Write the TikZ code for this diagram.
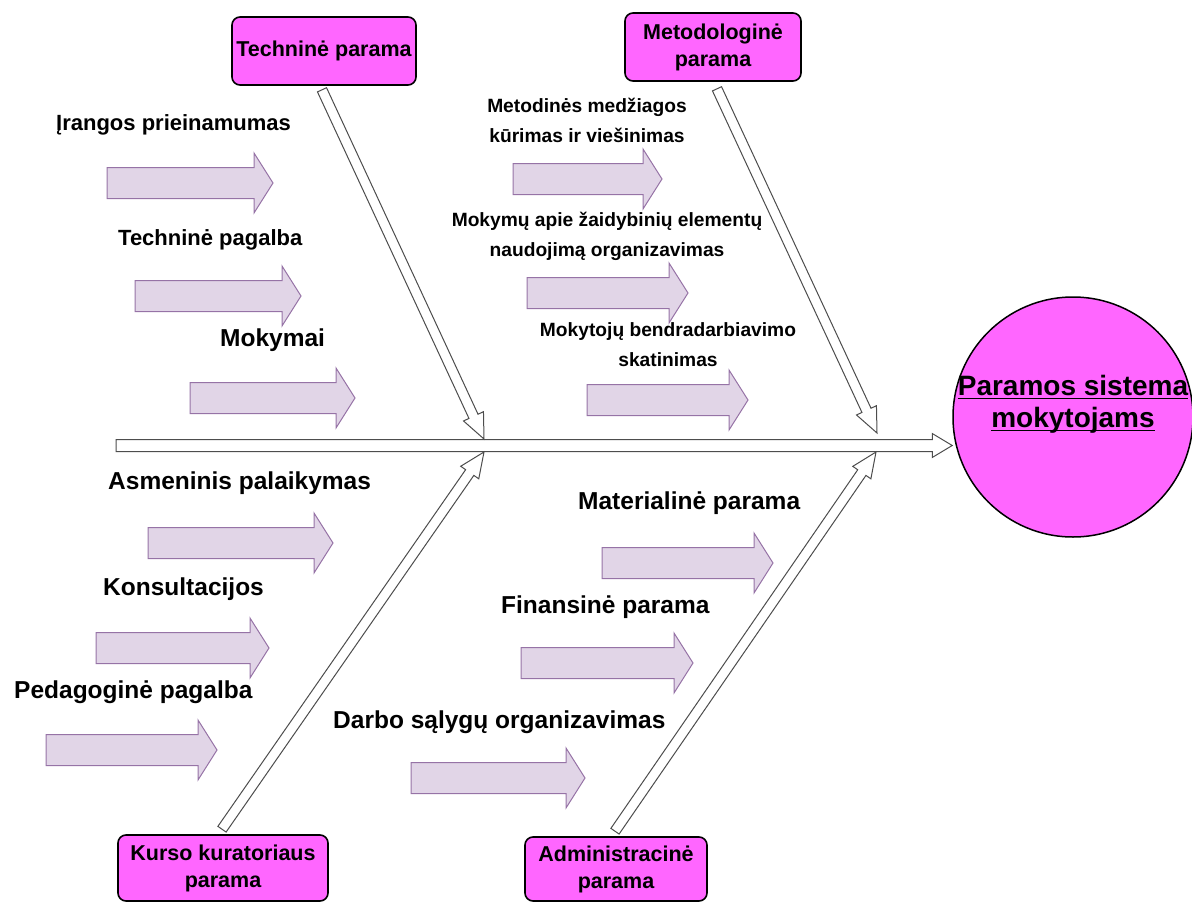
\documentclass[tikz,border=0pt]{standalone}
\usepackage{fontspec}
\setmainfont{Liberation Sans}
\usetikzlibrary{calc}

\definecolor{magentabox}{HTML}{FF66FF}
\definecolor{lavfill}{HTML}{E1D5E7}
\definecolor{lavline}{HTML}{9673A6}
\definecolor{boneline}{HTML}{4D4D4D}

% block arrow: style, from, to, half shaft width, half head width, head length
\newcommand\blockarrow[6]{%
  \coordinate (neck) at ($(#3)!#6!(#2)$);
  \draw[#1] ($(#2)!#4!90:(#3)$) -- ($(neck)!#4!-90:(#2)$) -- ($(neck)!#5!-90:(#2)$)
    -- (#3) -- ($(neck)!#5!90:(#2)$) -- ($(neck)!#4!90:(#2)$) -- ($(#2)!#4!-90:(#3)$) -- cycle;
}
% underlined text with the rule crossing the descenders
\newcommand\ulbar[1]{\setbox0\hbox{#1}\rlap{\rule[-4pt]{\wd0}{1.6pt}}\box0}

\tikzset{
  pbox/.style={draw=black, line width=1.6pt, fill=magentabox, rounded corners=8pt,
    align=center, font=\fontsize{21.5}{27}\selectfont\bfseries, inner sep=0pt},
  cause/.style={fill=lavfill, draw=lavline, line width=1pt},
  bone/.style={fill=white, draw=boneline, line width=1pt, line join=miter},
  lbl/.style={font=\fontsize{24.5}{28}\selectfont\bfseries, inner sep=0pt, anchor=west},
  mlbl/.style={lbl, font=\fontsize{22}{26}\selectfont\bfseries},
  slbl/.style={font=\fontsize{19.2}{30}\selectfont\bfseries, inner sep=0pt, align=center},
}

\begin{document}
\begin{tikzpicture}[x=1pt, y=-1pt]
\useasboundingbox (0,0) rectangle (1192,902);

% effect
\node[circle, draw=black, line width=1.5pt, fill=magentabox, minimum size=240pt, inner sep=0pt] (goal) at (1073,417) {};
\node[align=center, inner sep=0pt, font=\fontsize{28}{32}\selectfont\bfseries] (goaltext) at (1073,404)
  {\ulbar{Paramos sistema}\\\ulbar{mokytojams}};

% category boxes
\node[pbox, minimum width=184pt, minimum height=68pt] (tb) at (324,51) {Techninė parama};
\node[pbox, minimum width=176pt, minimum height=68pt] (mb) at (713,47) {Metodologinė\\parama};
\node[pbox, minimum width=210pt, minimum height=66pt] (kb) at (223,868) {Kurso kuratoriaus\\parama};
\node[pbox, minimum width=182pt, minimum height=64pt] (ab) at (616,869) {Administracinė\\parama};

% spine
\coordinate (spinestart) at (116,445.5);
\coordinate (spineend) at (goal.west |- spinestart);
\blockarrow{bone}{spinestart}{spineend}{6pt}{12pt}{20pt}

% main bones
\coordinate (t1) at ($(tb.south)+(-2,4)$);
\coordinate (t1end) at (484,439);
\coordinate (t2) at ($(mb.south)+(4,7)$);
\coordinate (t2end) at (877,433);
\coordinate (b1) at ($(kb.north)+(-1,-5)$);
\coordinate (b1end) at (484,452);
\coordinate (b2) at ($(ab.north)+(-1,-5)$);
\coordinate (b2end) at (876,452);
\blockarrow{bone}{t1}{t1end}{5pt}{11pt}{25pt}
\blockarrow{bone}{t2}{t2end}{5pt}{11pt}{25pt}
\blockarrow{bone}{b1}{b1end}{5pt}{11pt}{25pt}
\blockarrow{bone}{b2}{b2end}{5pt}{11pt}{25pt}

% causes
\foreach \n/\xa/\xb/\yc in {1/107/273/183, 2/135/301/296, 3/190/355/398,
    4/513/662/179, 5/527/688/293, 6/587/748/400,
    7/148/333/543, 8/96/269/648, 9/46/217/750,
    10/602/773/563, 11/521/693/663, 12/411/585/778}{
  \coordinate (c\n a) at (\xa,\yc);
  \coordinate (c\n b) at (\xb,\yc);
  \blockarrow{cause}{c\n a}{c\n b}{15.5pt}{30pt}{19pt}
}

% cause labels
\node[mlbl] (l1) at (56,125) {Įrangos prieinamumas};
\node[mlbl] (l2) at (118,240) {Techninė pagalba};
\node[lbl] (l3) at (220,340) {Mokymai};
\node[slbl] (l4) at (587,120) {Metodinės medžiagos\\kūrimas ir viešinimas};
\node[slbl] (l5) at (607,236) {Mokymų apie žaidybinių elementų\\naudojimą organizavimas};
\node[slbl] (l6) at (668,345) {Mokytojų bendradarbiavimo\\skatinimas};
\node[lbl] (l7) at (108,483) {Asmeninis palaikymas};
\node[lbl] (l8) at (103,589) {Konsultacijos};
\node[lbl] (l9) at (14,692) {Pedagoginė pagalba};
\node[lbl] (l10) at (578,503) {Materialinė parama};
\node[lbl] (l11) at (501,607) {Finansinė parama};
\node[lbl] (l12) at (333,722) {Darbo sąlygų organizavimas};
\end{tikzpicture}
\end{document}
